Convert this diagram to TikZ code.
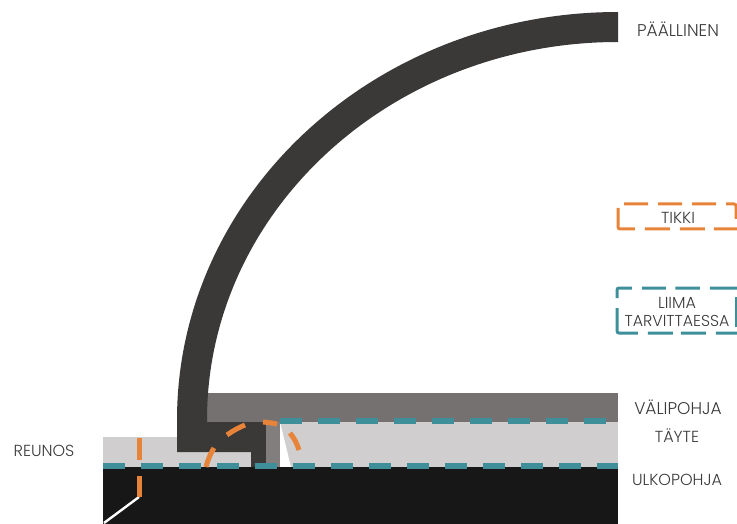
\documentclass[tikz,border=0pt]{standalone}
\usepackage{fontspec}
\setmainfont{Poppins Light}
\definecolor{archc}{HTML}{3B3838}
\definecolor{midc}{HTML}{767171}
\definecolor{stemc}{HTML}{827E7E}
\definecolor{fillc}{HTML}{D0CECE}
\definecolor{solec}{HTML}{171717}
\definecolor{tealc}{HTML}{3F8F9B}
\definecolor{orangec}{HTML}{E8843A}
\definecolor{textc}{HTML}{3A3A3A}
\tikzset{
  lab/.style={text=textc,font=\fontsize{16}{18}\selectfont,inner sep=0pt,align=center},
  lablarge/.style={lab,font=\fontsize{17}{18}\selectfont},
  stitch/.style={draw=orangec,line width=5pt},
  glue/.style={draw=tealc,line width=5.5pt,dash pattern=on 22pt off 16pt},
  tikkibox/.style={draw=orangec,line width=3pt,rounded corners=2pt},
  liimabox/.style={draw=tealc,line width=3pt,rounded corners=2pt}
}
\begin{document}
\begin{tikzpicture}[x=1pt,y=-1pt]
\useasboundingbox (0,0) rectangle (737,524);
\clip (0,0) rectangle (737,524);
% layers
\fill[fillc] (103,437) rectangle (251,467);
\fill[fillc] (280,422) rectangle (618,467);
\fill[white] (280,422) -- (291,467) -- (280,467) -- cycle;
\fill[midc] (207,393) rectangle (618,422);
\fill[solec] (103,467) rectangle (618,524);
% shell
\fill[archc] (618,12) .. controls (374.4,12) and (177,194.7) .. (177,420)
  -- (177,452) -- (251,452) -- (251,467) -- (266,467) -- (266,422) -- (207,422) -- (207,420)
  .. controls (207,211.2) and (391,42) .. (618,42) -- cycle;
\fill[stemc] (266,422) rectangle (280,467);
% glue
\draw[glue] (103,466) -- (618,466);
\draw[glue] (280,421) -- (618,421);
% stitches
\draw[white,line width=2.4pt] (139,497) -- (104,523);
\draw[stitch] (139,438) -- (139,460);
\draw[stitch] (139,476) -- (139,497);
\draw[stitch] (206,467) to[bend left=8] (214,448);
\draw[stitch] (227,435) to[bend left=6] (245,425);
\draw[stitch] (263,422) to[bend left=3] (277,424);
\draw[stitch] (290,433) to[bend left=10] (299,450);
% legend frames
\draw[tikkibox,dash pattern=on 24pt off 10pt] (736,219) -- (736,204) -- (618,204);
\draw[tikkibox,dash pattern=on 37pt off 10pt on 25pt off 10pt on 25pt off 9pt on 30pt off 10pt] (618,208) -- (618,229) -- (737,229);
\draw[liimabox,dash pattern=on 24pt off 10pt on 24pt off 9.5pt on 24.5pt off 10pt on 30pt off 10pt] (617,298) -- (617,288) -- (737,288);
\draw[liimabox,dash pattern=on 45pt off 10pt on 25pt off 8pt on 25pt off 10pt on 30pt off 10pt] (617,308) -- (617,333) -- (737,333);
\draw[liimabox] (736,297) -- (736,327);
% labels
\node[lablarge] (paallinen) at (678,29) {PÄÄLLINEN};
\node[lab] (tikki) at (678,218) {TIKKI};
\node[lab] (liima) at (677,312) {LIIMA\\\fontsize{15.8}{18}\selectfont TARVITTAESSA};
\node[lablarge] (valipohja) at (678,407) {VÄLIPOHJA};
\node[lab] (tayte) at (677,436) {TÄYTE};
\node[lab] (ulkopohja) at (677,480) {ULKOPOHJA};
\node[lab] (reunos) at (44,451) {REUNOS};
\end{tikzpicture}
\end{document}
